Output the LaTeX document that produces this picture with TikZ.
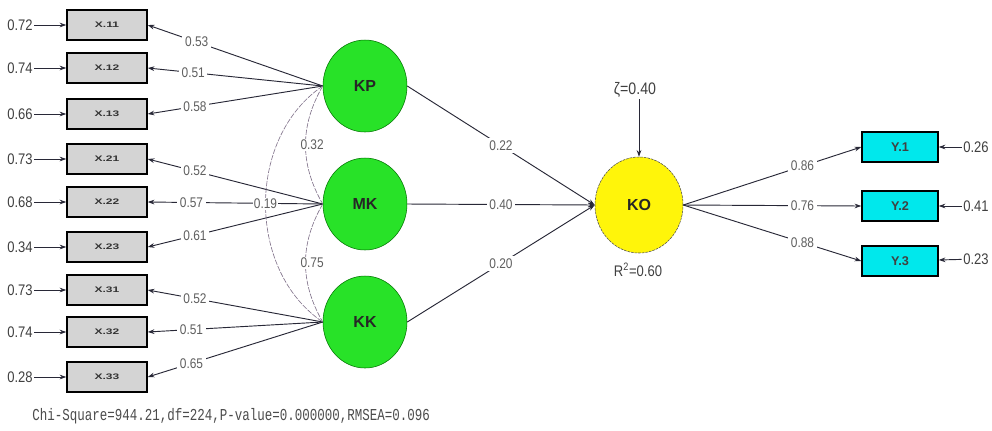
\documentclass[tikz,border=0pt]{standalone}
\usepackage{fontspec}
\setmainfont{Liberation Sans}
\newfontfamily\nfont[FakeStretch=0.85]{Liberation Sans}
\newfontfamily\wfont[FakeStretch=1.5]{Liberation Sans}
\newfontfamily\mfont[FakeStretch=0.75]{Liberation Mono}
\usetikzlibrary{arrows.meta,shapes.geometric}
\definecolor{latgreen}{RGB}{40,226,40}
\definecolor{koyellow}{RGB}{255,245,10}
\definecolor{ycyan}{RGB}{0,232,236}
\definecolor{boxgray}{RGB}{212,212,212}
\definecolor{linec}{RGB}{40,40,55}
\definecolor{covc}{RGB}{125,110,135}
\definecolor{lblc}{RGB}{95,95,95}
\begin{document}
\begin{tikzpicture}[x=0.75pt,y=-0.75pt,
  xbox/.style={rectangle,draw=black,line width=1.1pt,fill=boxgray,minimum width=60pt,minimum height=22.5pt,inner sep=0pt,font={\fontsize{6}{6}\selectfont\wfont\bfseries},text=black!80},
  ybox/.style={rectangle,draw=black,line width=1.1pt,fill=ycyan,minimum width=57pt,minimum height=22.5pt,inner sep=0pt,font={\fontsize{9.5}{10}\selectfont\bfseries},text=black!75},
  lat/.style={ellipse,draw=green!45!black,line width=0.4pt,fill=latgreen,minimum width=63pt,minimum height=69pt,inner sep=0pt,font={\fontsize{12}{12}\selectfont\bfseries},text=black!85},
  endo/.style={ellipse,draw=gray!60!black,line width=0.4pt,dash pattern=on 2pt off 0.7pt,fill=koyellow,minimum width=66pt,minimum height=72pt,inner sep=0pt,font={\fontsize{12}{12}\selectfont\bfseries},text=black!85},
  elbl/.style={inner sep=1pt,font={\fontsize{11.5}{12}\selectfont\nfont},text=black!75},
  lbl/.style={fill=white,inner sep=2pt,font={\fontsize{10.5}{10.5}\selectfont\nfont},text=lblc},
  clbl/.style={fill=white,inner sep=1pt,font={\fontsize{10.5}{10.5}\selectfont\nfont},text=lblc},
  arr/.style={draw=linec,line width=0.7pt,-{Stealth[length=5pt,width=3.5pt]}},
  cov/.style={draw=covc,line width=0.45pt,dash pattern=on 4pt off 1pt}
]
\useasboundingbox (0,0) rectangle (992,430);
\fill[white] (0,0) rectangle (992,430);

% indicator boxes
\node[xbox] (x11) at (107,25) {X.11};
\node[xbox] (x12) at (107,68) {X.12};
\node[xbox] (x13) at (107,114) {X.13};
\node[xbox] (x21) at (107,159) {X.21};
\node[xbox] (x22) at (107,202) {X.22};
\node[xbox] (x23) at (107,247) {X.23};
\node[xbox] (x31) at (107,290) {X.31};
\node[xbox] (x32) at (107,332) {X.32};
\node[xbox] (x33) at (107,377) {X.33};

% error labels left
\node[elbl] (e11) at (20,25) {0.72};
\node[elbl] (e12) at (20,68) {0.74};
\node[elbl] (e13) at (20,114) {0.66};
\node[elbl] (e21) at (20,159) {0.73};
\node[elbl] (e22) at (20,202) {0.68};
\node[elbl] (e23) at (20,247) {0.34};
\node[elbl] (e31) at (20,290) {0.73};
\node[elbl] (e32) at (20,332) {0.74};
\node[elbl] (e33) at (20,377) {0.28};
\foreach \i in {11,12,13,21,22,23,31,32,33}{\draw[arr] (e\i) -- (x\i);}

% latent variables
\node[lat] (KP) at (365,86) {KP};
\node[lat] (MK) at (365,204) {MK};
\node[lat] (KK) at (365,322) {KK};
\node[endo] (KO) at (639,205) {KO};

% loadings
\draw[arr] (KP.west) -- node[lbl,pos=0.72]{0.53} (x11.east);
\draw[arr] (KP.west) -- node[lbl,pos=0.74]{0.51} (x12.east);
\draw[arr] (KP.west) -- node[lbl,pos=0.73]{0.58} (x13.east);
\draw[arr] (MK.west) -- node[lbl,pos=0.73]{0.52} (x21.east);
\draw[arr] (MK.west) -- node[lbl,pos=0.75]{0.57} (x22.east);
\draw[arr] (MK.west) -- node[lbl,pos=0.73]{0.61} (x23.east);
\draw[arr] (KK.west) -- node[lbl,pos=0.73]{0.52} (x31.east);
\draw[arr] (KK.west) -- node[lbl,pos=0.75]{0.51} (x32.east);
\draw[arr] (KK.west) -- node[lbl,pos=0.75]{0.65} (x33.east);

% covariances
\draw[cov] (KP.west) to[out=240,in=120] node[clbl,xshift=5pt]{0.32} (MK.west);
\draw[cov] (MK.west) to[out=240,in=120] node[clbl,xshift=5pt]{0.75} (KK.west);
\draw[cov] (KP.west) to[out=214,in=146] node[clbl]{0.19} (KK.west);

% structural paths
\draw[arr] (KP.east) -- node[lbl,pos=0.5]{0.22} (KO.west);
\draw[arr] (MK.east) -- node[lbl,pos=0.5]{0.40} (KO.west);
\draw[arr] (KK.east) -- node[lbl,pos=0.5]{0.20} (KO.west);

% disturbance and R2
\node[elbl,font={\fontsize{12.5}{13}\selectfont\nfont}] (zeta) at (635,90) {ζ=0.40};
\draw[arr] (zeta.south -| KO.north) -- (KO.north);
\node[elbl] (r2) at (638,270) {R\textsuperscript{2}=0.60};

% endogenous indicators
\node[ybox] (y1) at (900,147) {Y.1};
\node[ybox] (y2) at (900,206) {Y.2};
\node[ybox] (y3) at (900,261) {Y.3};
\draw[arr] (KO.east) -- node[lbl,pos=0.67]{0.86} (y1.west);
\draw[arr] (KO.east) -- node[lbl,pos=0.67]{0.76} (y2.west);
\draw[arr] (KO.east) -- node[lbl,pos=0.67]{0.88} (y3.west);
\node[elbl] (ey1) at (976,147) {0.26};
\node[elbl] (ey2) at (976,206) {0.41};
\node[elbl] (ey3) at (976,259) {0.23};
\draw[arr] (ey1) -- (y1);
\draw[arr] (ey2) -- (y2);
\draw[arr] (ey3) -- (y3);

% fit statistics
\node[anchor=west,inner sep=0pt,font={\fontsize{12.5}{12.5}\selectfont\mfont},text=black!70] (fit) at (32,416) {Chi-Square=944.21,df=224,P-value=0.000000,RMSEA=0.096};
\end{tikzpicture}
\end{document}
